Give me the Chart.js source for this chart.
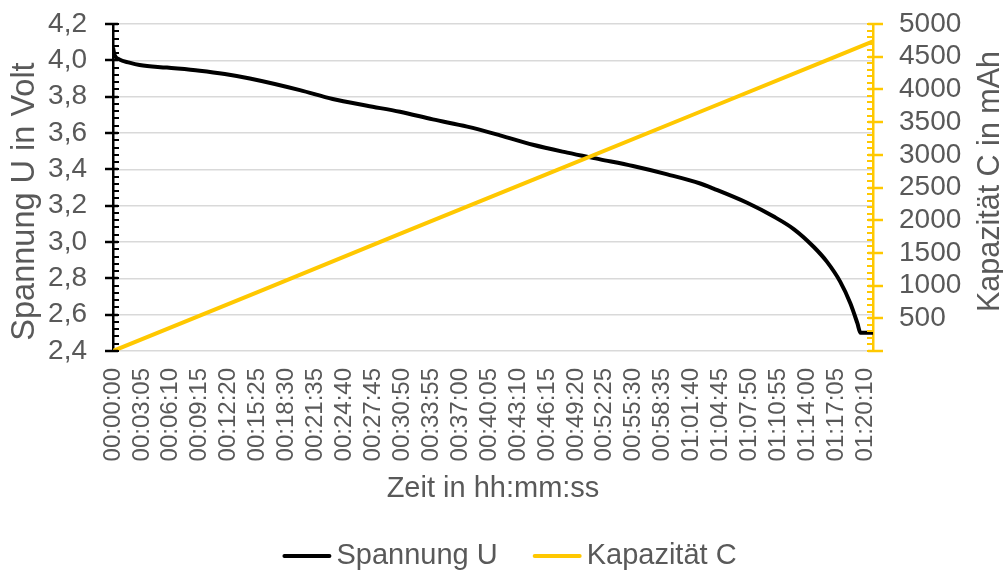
<!DOCTYPE html>
<html lang="de">
<head>
<meta charset="utf-8">
<title>Spannung und Kapazität</title>
<script src="https://cdn.jsdelivr.net/npm/chart.js@4.4.1/dist/chart.umd.min.js"></script>
<style>
  html, body { margin: 0; padding: 0; background: #fff; }
  #wrap { width: 1003px; height: 571px; position: relative; }
</style>
</head>
<body>
<div id="wrap"><canvas id="chart"></canvas></div>
<script>
// Entladekurve: Zeit in Sekunden, Spannung in Volt
const voltTimes = [0, 10, 40, 105, 170, 345, 555, 715, 875, 1195, 1405, 1625, 1835, 2045, 2265,
  2475, 2685, 2905, 3115, 3325, 3545, 3755, 3840, 4055, 4225, 4355, 4480, 4565, 4650, 4715, 4760, 4780, 4860];
const voltValues = [4.07, 4.03, 4.005, 3.987, 3.974, 3.96, 3.943, 3.925, 3.90, 3.836, 3.787, 3.75, 3.717, 3.675, 3.635,
  3.587, 3.535, 3.492, 3.455, 3.418, 3.372, 3.322, 3.294, 3.216, 3.14, 3.07, 2.974, 2.892, 2.782, 2.663, 2.553, 2.50, 2.50];

// Kapazität in mAh
const capTimes = [0, 925, 1850, 2775, 3700, 4625, 4860];
const capValues = [0, 900, 1805, 2705, 3605, 4505, 4736];

// Achsen
const timeMax = 4860;      // s
const timeStep = 185;      // 00:03:05
const voltMin = 2.4, voltMax = 4.2, voltStep = 0.2, voltMinor = 0.04;
const capMin = 0, capMax = 5000, capStep = 500, capMinor = 100;
const voltTitle = 'Spannung U in Volt';
const capTitle = 'Kapazität C in mAh';

const TEXT = '#595959';
const GRID = '#d9d9d9';
const YELLOW = '#FFC800';
const FONT = "'Liberation Sans', Arial, sans-serif";

function fmtTime(sec) {
  const s = Math.round(sec);
  const h = Math.floor(s / 3600);
  const m = Math.floor((s % 3600) / 60);
  const r = s % 60;
  return [h, m, r].map(n => String(n).padStart(2, '0')).join(':');
}

// Teilstriche (groß nach außen, klein nach innen)
function drawTicks(ctx, scale, x, from, to, step, color, outLen, inLen) {
  ctx.strokeStyle = color;
  const n = Math.round((to - from) / step);
  for (let i = 0; i <= n; i++) {
    const py = Math.round(scale.getPixelForValue(from + i * step));
    ctx.beginPath();
    ctx.moveTo(x + outLen, py);
    ctx.lineTo(x + inLen, py);
    ctx.stroke();
  }
}

const axisTicks = {
  id: 'axisTicks',
  afterDraw(chart) {
    const { ctx, scales } = chart;
    const y = scales.y, y1 = scales.y1;
    ctx.save();
    ctx.lineWidth = 2.5;
    drawTicks(ctx, y, y.right, voltMin, voltMax, voltStep, '#000', -8, 5);
    drawTicks(ctx, y1, y1.left, capMin, capMax, capStep, YELLOW, 10, -5);
    ctx.lineWidth = 2;
    drawTicks(ctx, y, y.right, voltMin, voltMax, voltMinor, '#000', 0, 6);
    drawTicks(ctx, y1, y1.left, capMin, capMax, capMinor, YELLOW, 0, -6);
    ctx.restore();
  }
};

// Achsentitel links und rechts, beide von unten nach oben gelesen
function drawVerticalTitle(ctx, text, cx, cy, size) {
  ctx.save();
  ctx.translate(cx, cy);
  ctx.rotate(-Math.PI / 2);
  ctx.font = size + 'px ' + FONT;
  ctx.fillStyle = TEXT;
  ctx.textAlign = 'center';
  ctx.textBaseline = 'middle';
  ctx.fillText(text, 0, 0);
  ctx.restore();
}

const axisTitles = {
  id: 'axisTitles',
  afterDraw(chart) {
    const { ctx, chartArea } = chart;
    const mid = (chartArea.top + chartArea.bottom) / 2;
    drawVerticalTitle(ctx, voltTitle, 25, mid + 14, 32.5);
    drawVerticalTitle(ctx, capTitle, chart.width - 12, mid - 6, 30.5);
  }
};

// Legende unten
const bottomLegend = {
  id: 'bottomLegend',
  afterDraw(chart) {
    const { ctx } = chart;
    const lineLen = 49, gap = 5, spacing = 35, cy = 556;
    ctx.save();
    ctx.font = '29px ' + FONT;
    ctx.textBaseline = 'middle';
    const items = chart.data.datasets.map(ds => ({
      text: ds.label, color: ds.borderColor, w: ctx.measureText(ds.label).width
    }));
    const total = items.reduce((s, it) => s + lineLen + gap + it.w, 0) + spacing * (items.length - 1);
    let x = chart.width / 2 + 8 - total / 2;
    items.forEach(it => {
      ctx.strokeStyle = it.color;
      ctx.lineWidth = 4;
      ctx.lineCap = 'round';
      ctx.beginPath();
      ctx.moveTo(x + 2, cy);
      ctx.lineTo(x + lineLen - 2, cy);
      ctx.stroke();
      ctx.fillStyle = TEXT;
      ctx.fillText(it.text, x + lineLen + gap, cy);
      x += lineLen + gap + it.w + spacing;
    });
    ctx.restore();
  }
};

const ctx = document.getElementById('chart').getContext('2d');
Chart.defaults.font.family = FONT;
Chart.defaults.color = TEXT;

new Chart(ctx, {
  type: 'line',
  data: {
    datasets: [
      {
        label: 'Spannung U',
        data: voltTimes.map((t, i) => ({ x: t, y: voltValues[i] })),
        borderColor: '#000000',
        backgroundColor: '#000000',
        borderWidth: 4,
        pointRadius: 0,
        cubicInterpolationMode: 'monotone',
        yAxisID: 'y',
        order: 2
      },
      {
        label: 'Kapazität C',
        data: capTimes.map((t, i) => ({ x: t, y: capValues[i] })),
        borderColor: YELLOW,
        backgroundColor: YELLOW,
        borderWidth: 4,
        pointRadius: 0,
        yAxisID: 'y1',
        order: 1
      }
    ]
  },
  options: {
    responsive: true,
    maintainAspectRatio: false,
    animation: false,
    layout: { padding: { top: 24, right: 0, bottom: 64, left: 0 } },
    plugins: {
      tooltip: { enabled: false },
      legend: { display: false }
    },
    scales: {
      x: {
        type: 'linear',
        min: 0,
        max: timeMax,
        afterFit: (s) => { s.height = 156; },
        grid: { display: false, drawTicks: false },
        border: { display: false },
        ticks: {
          stepSize: timeStep,
          includeBounds: false,
          autoSkip: false,
          minRotation: 90,
          maxRotation: 90,
          padding: 17,
          color: TEXT,
          font: { size: 24 },
          callback: (v) => fmtTime(v)
        },
        title: {
          display: true,
          text: 'Zeit in hh:mm:ss',
          color: TEXT,
          font: { size: 29, lineHeight: 1 },
          padding: { top: 0, bottom: 4 }
        }
      },
      y: {
        position: 'left',
        min: voltMin,
        max: voltMax,
        afterFit: (s) => { s.width = 113; },
        grid: { color: GRID, lineWidth: 1.5, tickColor: 'rgba(0,0,0,0)', tickLength: 26 },
        border: { color: '#000', width: 2.5 },
        ticks: {
          stepSize: voltStep,
          autoSkip: false,
          padding: 0,
          color: TEXT,
          font: { size: 28 },
          callback: (v) => (Math.round(v * 10) / 10).toFixed(1).replace('.', ',')
        }
      },
      y1: {
        position: 'right',
        min: capMin,
        max: capMax,
        afterFit: (s) => { s.width = 130; },
        grid: { drawOnChartArea: false, tickColor: 'rgba(0,0,0,0)', tickLength: 26 },
        border: { color: YELLOW, width: 2.5 },
        ticks: {
          stepSize: capStep,
          autoSkip: false,
          padding: 0,
          color: TEXT,
          font: { size: 28 },
          callback: (v) => (v === 0 ? '' : String(v))
        }
      }
    }
  },
  plugins: [axisTicks, axisTitles, bottomLegend]
});
</script>
</body>
</html>
